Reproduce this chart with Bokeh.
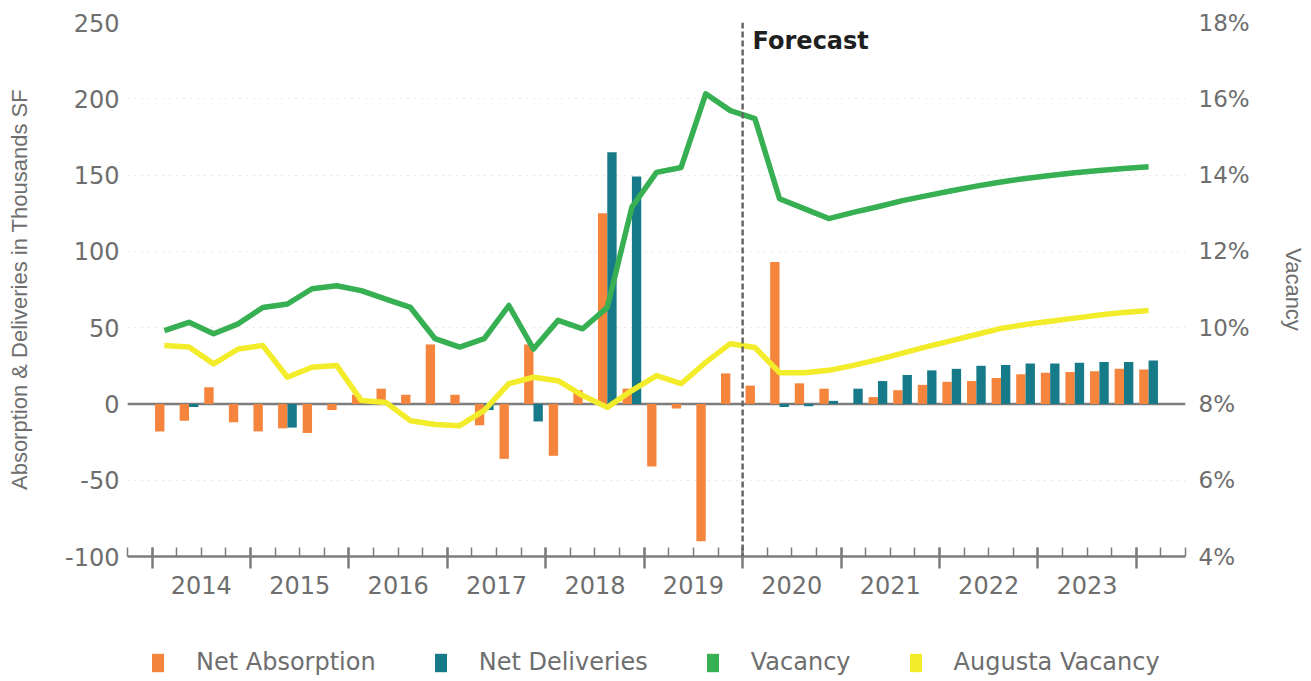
from bokeh.plotting import figure
from bokeh.layouts import column
from bokeh.models import (Range1d, LinearAxis, FixedTicker, PrintfTickFormatter,
                          Span, Label, Legend, LegendItem)
from bokeh.embed import file_html
from bokeh.resources import INLINE

# ---- data -------------------------------------------------------------
year_labels = ["2014", "2015", "2016", "2017", "2018",
               "2019", "2020", "2021", "2022", "2023"]

quarters = [
    "2014 Q1", "2014 Q2", "2014 Q3", "2014 Q4",
    "2015 Q1", "2015 Q2", "2015 Q3", "2015 Q4",
    "2016 Q1", "2016 Q2", "2016 Q3", "2016 Q4",
    "2017 Q1", "2017 Q2", "2017 Q3", "2017 Q4",
    "2018 Q1", "2018 Q2", "2018 Q3", "2018 Q4",
    "2019 Q1", "2019 Q2", "2019 Q3", "2019 Q4",
    "2020 Q1", "2020 Q2", "2020 Q3", "2020 Q4",
    "2021 Q1", "2021 Q2", "2021 Q3", "2021 Q4",
    "2022 Q1", "2022 Q2", "2022 Q3", "2022 Q4",
    "2023 Q1", "2023 Q2", "2023 Q3", "2023 Q4",
    "2024 Q1",
]

# thousands of SF
net_absorption = [
    -18, -11, 11, -12,
    -18, -16, -19, -4,
    6, 10, 6, 39,
    6, -14, -36, 39,
    -34, 9, 125, 10,
    -41, -3, -90, 20,
    12, 93, 13.5, 10,
    0, 4.5, 9, 12.5,
    14.5, 15, 17, 19.5,
    20.5, 21, 21.5, 23,
    22.5,
]
net_deliveries = [
    0, -2, 0, 0,
    0, -15.5, 0, 0,
    0, 0, 0, 0,
    0, -4, 0, -11.5,
    0, 0, 165, 149,
    0, 0, 0, 0,
    0, -2, -1.5, 2,
    10, 15, 19, 22,
    23, 25, 25.5, 26.5,
    26.5, 27, 27.5, 27.5,
    28.5,
]

# percent
vacancy = [
    9.92, 10.14, 9.84, 10.1,
    10.53, 10.62, 11.02, 11.10,
    10.97, 10.75, 10.53, 9.71,
    9.49, 9.71, 10.58, 9.44,
    10.19, 9.97, 10.53, 13.16,
    14.07, 14.20, 16.13, 15.69,
    15.48, 13.38, 13.12, 12.86,
    13.02, 13.17, 13.33, 13.46,
    13.59, 13.71, 13.82, 13.91,
    13.99, 14.06, 14.12, 14.17,
    14.22,
]
augusta_vacancy = [
    9.53, 9.49, 9.05, 9.44,
    9.53, 8.70, 8.96, 9.01,
    8.09, 8.04, 7.56, 7.46,
    7.43, 7.83, 8.53, 8.70,
    8.61, 8.22, 7.91, 8.35,
    8.74, 8.53, 9.09, 9.58,
    9.48, 8.82, 8.82, 8.88,
    9.01, 9.16, 9.33, 9.50,
    9.66, 9.82, 9.98, 10.08,
    10.17, 10.25, 10.33, 10.40,
    10.45,
]

left_ticks = [-100, -50, 0, 50, 100, 150, 200, 250]
right_ticks = [4, 6, 8, 10, 12, 14, 16, 18]
forecast_start = quarters.index("2020 Q1")

# ---- styling ------------------------------------------------------------
ORANGE = "#F5843C"
TEAL = "#177A89"
GREEN = "#36B052"
YELLOW = "#F2EC2A"
AXIS_GRAY = "#7c7c7c"
TEXT_GRAY = "#6e6e6e"
SANS_WIDE = "DejaVu Sans"
SANS = "Liberation Sans"

n = len(quarters)
idx = list(range(n))
abs_x = [i + 0.31 for i in idx]
del_x = [i + 0.69 for i in idx]
line_x = [i + 0.5 for i in idx]
year_bounds = [4 * k for k in range(len(year_labels) + 1)]
year_centers = [4 * k + 2 for k in range(len(year_labels))]
quarter_bounds = list(range(-1, 43))

p = figure(width=1311, height=640,
           x_range=Range1d(-1, 42), y_range=Range1d(-100, 250),
           output_backend="svg", toolbar_location=None,
           min_border_left=127, min_border_right=126,
           min_border_top=22, min_border_bottom=84,
           outline_line_color=None,
           background_fill_color="white", border_fill_color="white")
p.extra_y_ranges = {"vac": Range1d(4, 18)}

# grid: faint dotted horizontals
p.xgrid.visible = False
p.ygrid.ticker = FixedTicker(ticks=left_ticks)
p.ygrid.grid_line_color = "#b5b5b5"
p.ygrid.grid_line_dash = "1 6"
p.ygrid.grid_line_alpha = 0.6

# zero baseline under the bars
p.add_layout(Span(location=0, dimension="width", line_color=AXIS_GRAY,
                  line_width=2.5, level="underlay"))

# bars
p.vbar(x=abs_x, top=net_absorption, bottom=0, width=0.38,
       fill_color=ORANGE, line_color=None)
p.vbar(x=del_x, top=net_deliveries, bottom=0, width=0.38,
       fill_color=TEAL, line_color=None)

# vacancy lines on the secondary scale
p.line(x=line_x, y=vacancy, y_range_name="vac",
       line_color=GREEN, line_width=5.5, line_join="round")
p.line(x=line_x, y=augusta_vacancy, y_range_name="vac",
       line_color=YELLOW, line_width=5.5, line_join="round")

# forecast divider
p.add_layout(Span(location=forecast_start, dimension="height",
                  line_color="#666666", line_width=2.5, line_dash="6 3"))
p.add_layout(Label(x=forecast_start, y=250, x_offset=10, y_offset=-4,
                   text="Forecast", text_font=SANS_WIDE,
                   text_font_style="bold", text_font_size="24px",
                   text_color="#1f1f1f", text_baseline="top"))

# bottom axis: line with year ticks and quarter minor ticks
xa = p.xaxis[0]
xa.ticker = FixedTicker(ticks=year_bounds, minor_ticks=quarter_bounds)
xa.major_label_overrides = {b: "" for b in year_bounds}
xa.major_label_text_font_size = "1px"
xa.major_label_standoff = 0
xa.axis_line_color = AXIS_GRAY
xa.axis_line_width = 2.5
xa.major_tick_line_color = AXIS_GRAY
xa.major_tick_line_width = 2.5
xa.major_tick_in = 9
xa.major_tick_out = 12
xa.minor_tick_line_color = AXIS_GRAY
xa.minor_tick_line_width = 1.5
xa.minor_tick_in = 9
xa.minor_tick_out = 0

# year names centred in each year
xl = LinearAxis(ticker=FixedTicker(ticks=year_centers),
                major_label_overrides={c: y for c, y in zip(year_centers, year_labels)},
                axis_line_color=None, major_tick_line_color=None,
                minor_tick_line_color=None, major_tick_in=0, major_tick_out=0,
                minor_tick_in=0, minor_tick_out=0,
                major_label_standoff=7,
                major_label_text_font=SANS_WIDE,
                major_label_text_font_size="24px",
                major_label_text_color=TEXT_GRAY)
p.add_layout(xl, "below")

# left axis
ya = p.yaxis[0]
ya.ticker = FixedTicker(ticks=left_ticks)
ya.major_label_overrides = {-100: "-100", -50: "-50"}
ya.axis_line_color = None
ya.major_tick_line_color = None
ya.minor_tick_line_color = None
ya.major_tick_in = 0
ya.major_tick_out = 0
ya.major_label_standoff = 8
ya.major_label_text_font = SANS_WIDE
ya.major_label_text_font_size = "24px"
ya.major_label_text_color = TEXT_GRAY
ya.axis_label = "Absorption & Deliveries in Thousands SF"
ya.axis_label_text_font = SANS
ya.axis_label_text_font_style = "normal"
ya.axis_label_text_font_size = "22px"
ya.axis_label_text_color = TEXT_GRAY
ya.axis_label_standoff = 30

# right axis
yr = LinearAxis(y_range_name="vac", ticker=FixedTicker(ticks=right_ticks),
                formatter=PrintfTickFormatter(format="%d%%"),
                axis_line_color=None, major_tick_line_color=None,
                minor_tick_line_color=None, major_tick_in=0, major_tick_out=0,
                major_label_standoff=13,
                major_label_text_font=SANS_WIDE,
                major_label_text_font_size="23px",
                major_label_text_color=TEXT_GRAY,
                axis_label="Vacancy", axis_label_text_font=SANS,
                axis_label_text_font_style="normal",
                axis_label_text_font_size="22px",
                axis_label_text_color=TEXT_GRAY,
                axis_label_standoff=28)
p.add_layout(yr, "right")

# ---- legend strip (its frame lines up with the chart frame) --------------
lf = figure(width=1311, height=41, x_range=Range1d(0, 1), y_range=Range1d(0, 1),
            output_backend="svg", toolbar_location=None,
            x_axis_location=None, y_axis_location=None, min_border=0,
            outline_line_color=None,
            background_fill_color="white", border_fill_color="white")
lf.grid.visible = False

# square keys, one per series (drawn only as legend swatches)
key_abs = lf.vbar(x=abs_x, top=net_absorption, width=0.38,
                  fill_color=ORANGE, line_color=None, visible=False)
key_del = lf.vbar(x=del_x, top=net_deliveries, width=0.38,
                  fill_color=TEAL, line_color=None, visible=False)
key_vac = lf.vbar(x=line_x, top=vacancy, width=0.38,
                  fill_color=GREEN, line_color=None, visible=False)
key_aug = lf.vbar(x=line_x, top=augusta_vacancy, width=0.38,
                  fill_color=YELLOW, line_color=None, visible=False)

legend = Legend(items=[
    LegendItem(label="Net Absorption", renderers=[key_abs]),
    LegendItem(label="Net Deliveries", renderers=[key_del]),
    LegendItem(label="Vacancy", renderers=[key_vac]),
    LegendItem(label="Augusta Vacancy", renderers=[key_aug]),
], orientation="horizontal", location=(23, 5),
    glyph_width=15, glyph_height=23, label_height=23,
    label_standoff=31, spacing=57,
    padding=0, margin=0, border_line_color=None, background_fill_alpha=0,
    label_text_font=SANS_WIDE, label_text_font_size="24px",
    label_text_color=TEXT_GRAY)
lf.add_layout(legend)

open("out.html", "w").write(file_html(column(p, lf, spacing=0), INLINE))
